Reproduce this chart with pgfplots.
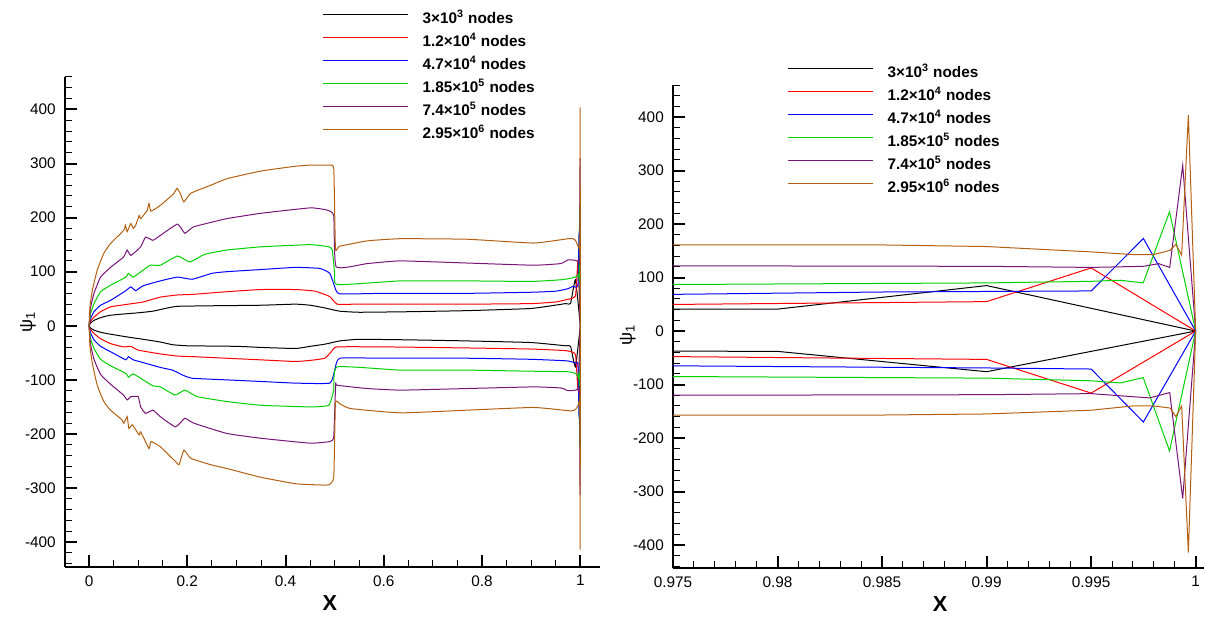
\documentclass[border=0pt]{standalone}
\usepackage{fontspec}
\setmainfont{Liberation Sans}
\usepackage{pgfplots}
\usepackage{pgfplotstable}
\pgfplotsset{compat=1.18}
\definecolor{cgreen}{RGB}{0,210,0}
\definecolor{cpurple}{RGB}{120,20,120}
\definecolor{cbrown}{RGB}{180,95,15}

\pgfplotstableread{
x y
0 0
0.003 5
0.01 10
0.0234 15
0.04 19
0.06 21
0.1 24
0.13 27
0.16 33
0.18 36
0.25 37
0.35 38
0.42 40
0.45 38
0.48 33
0.51 27
0.55 25
0.65 26
0.77 28
0.9 32
0.97 41
0.98 41
0.99 85
1 0
}\bkU
\pgfplotstableread{
x y
0 0
0.003 -4
0.01 -8
0.0234 -12
0.04 -15
0.08 -21
0.11 -25
0.145 -30
0.17 -35
0.2 -37
0.3 -38
0.35 -40
0.42 -42
0.45 -38
0.48 -34
0.51 -28
0.55 -25
0.65 -26
0.77 -28
0.9 -31
0.97 -37
0.98 -38
0.99 -76
1 0
}\bkL
\pgfplotstableread{
x y
0 0
0.003 8
0.01 16
0.0234 26
0.0437 35
0.08 40
0.11 44
0.145 53
0.18 57
0.21 58
0.28 63
0.35 67
0.42 67
0.46 64
0.49 54
0.505 40
0.55 40
0.77 40
0.9 41
0.95 44
0.97 48
0.99 55
0.995 118
1 0
}\rdU
\pgfplotstableread{
x y
0 0
0.003 -7
0.01 -14
0.0234 -24
0.0437 -33
0.07 -39
0.085 -38
0.1 -45
0.145 -52
0.18 -56
0.21 -57
0.28 -60
0.35 -63
0.42 -66
0.45 -64
0.48 -60
0.495 -46
0.505 -39
0.6 -39
0.77 -41
0.9 -43
0.97 -46
0.99 -53
0.995 -116
1 0
}\rdL
\pgfplotstableread{
x y
0 0
0.003 13
0.01 26
0.0234 38
0.0437 47
0.075 65
0.085 72
0.095 65
0.11 74
0.145 83
0.18 90
0.21 86
0.25 97
0.28 100
0.35 104
0.42 108
0.47 106
0.49 97
0.5 72
0.51 59
0.6 60
0.77 60
0.9 62
0.95 64
0.975 68.6
0.985 73
0.995 75
0.9975 173
1 0
}\blU
\pgfplotstableread{
x y
0 0
0.003 -13
0.01 -26
0.0234 -38
0.0437 -48
0.075 -63
0.08 -57
0.09 -63
0.11 -68
0.145 -77
0.17 -82
0.19 -91
0.21 -97
0.28 -100
0.35 -103
0.42 -106
0.49 -106
0.5 -82
0.51 -60
0.6 -60
0.77 -60
0.9 -62
0.975 -65
0.99 -69
0.995 -71
0.9975 -170
1 0
}\blL
\pgfplotstableread{
x y
0 0
0.003 22
0.01 41
0.0234 63
0.0437 75
0.075 90
0.08 97
0.09 90
0.11 103
0.125 112
0.145 112
0.18 129
0.205 118
0.235 132
0.28 140
0.35 146
0.45 150
0.488 146
0.495 140
0.5 97
0.505 76
0.634 83
0.77 83
0.9 82
0.96 85
0.975 87
0.99 90
0.995 93
0.9964 95
0.99749 90
0.99875 223
1 0
}\grU
\pgfplotstableread{
x y
0 0
0.003 -23
0.01 -42
0.0234 -62
0.0437 -74
0.075 -88
0.08 -95
0.09 -89
0.11 -100
0.13 -111
0.145 -113
0.175 -128
0.195 -119
0.22 -131
0.28 -140
0.35 -147
0.45 -150
0.488 -147
0.498 -119
0.505 -76
0.634 -82
0.77 -82
0.9 -84
0.975 -85
0.99 -88
0.995 -93
0.9964 -97
0.99749 -87
0.99875 -224
1 0
}\grL
\pgfplotstableread{
x y
0 0
0.003 33
0.01 60
0.0234 90
0.0437 108
0.07 127
0.0776 140
0.085 130
0.105 146
0.115 164
0.13 158
0.145 167
0.18 188
0.195 171
0.213 183
0.28 198
0.35 208
0.45 218
0.484 214
0.498 204
0.503 109
0.566 115
0.634 120
0.77 116
0.905 112
0.96 115
0.975 122
0.99 121
0.995 119
0.9975 121
0.99823 126
0.99876 119
0.99938 310
1 0
}\puU
\pgfplotstableread{
x y
0 0
0.003 -34
0.01 -62
0.0234 -90
0.0437 -108
0.07 -128
0.0776 -137
0.085 -131
0.1 -131
0.105 -150
0.115 -162
0.13 -156
0.145 -168
0.176 -187
0.195 -171
0.213 -180
0.28 -199
0.35 -208
0.45 -217
0.49 -214
0.498 -205
0.502 -107
0.505 -110
0.566 -116
0.634 -119
0.77 -116
0.905 -113
0.96 -115
0.975 -120
0.99 -119
0.995 -117
0.9978 -125
0.99876 -115
0.99938 -313
1 0
}\puL
\pgfplotstableread{
x y
0 0
0.002 38
0.0068 66
0.0166 103
0.03 134
0.0437 152
0.0709 177
0.074 186
0.0776 174
0.085 189
0.09 180
0.095 186
0.102 204
0.105 198
0.118 213
0.122 226
0.126 212
0.1455 223
0.172 244
0.179 254
0.186 244
0.193 229
0.207 245
0.248 260
0.281 272
0.349 286
0.42 295
0.45 297
0.488 297
0.4981 290
0.5015 143
0.51 147
0.566 157
0.634 161
0.77 160
0.905 153
0.975 161
0.985 161
0.99 158
0.995 148
0.997 143
0.998 143
0.99878 151
0.99905 162
0.99933 142
0.99965 404
1 0
}\brU
\pgfplotstableread{
x y
0 0
0.002 -40
0.0068 -70
0.0166 -110
0.03 -140
0.0437 -156
0.067 -174
0.0709 -180
0.0776 -168
0.081 -190
0.088 -183
0.102 -202
0.105 -196
0.122 -227
0.126 -214
0.1455 -224
0.176 -251
0.183 -257
0.193 -230
0.207 -245
0.248 -257
0.281 -264
0.349 -280
0.42 -292
0.46 -294
0.488 -294
0.4981 -279
0.5015 -143
0.51 -144
0.532 -153
0.634 -161
0.77 -156
0.905 -151
0.975 -157
0.985 -157
0.99 -155
0.995 -148
0.997 -140
0.998 -140
0.99878 -144
0.99905 -160
0.99933 -140
0.99965 -414
1 0
}\brL

\pgfplotsset{
  tecaxis/.style={
    scale only axis,
    axis lines=left,
    axis line style={-, line width=1.2pt},
    tick align=inside,
    major tick length=7pt,
    minor tick length=4pt,
    major tick style={line width=1.2pt, black},
    minor tick style={line width=0.6pt, black},
    ytick={-400,-300,-200,-100,0,100,200,300,400},
    yticklabels={-400,-300,-200,-100,0,100,200,300,400},
    minor ytick={-440,-420,...,460},
    tick label style={font=\fontsize{9.2}{11}\selectfont},
    xticklabel style={yshift=-1.5pt},
    yticklabel style={xshift=-2pt},
    xlabel={\textbf{X}},
    ylabel={ψ\textsubscript{1}},
    xlabel style={font=\fontsize{13}{15}\selectfont, anchor=center},
    ylabel style={font=\fontsize{11}{13}\selectfont, anchor=center},
    legend style={draw=none, fill=none, inner sep=0pt, outer sep=0pt,
      font=\bfseries\fontsize{9.2}{11}\selectfont,
      nodes={inner sep=0pt, text height=6.8pt, text depth=2pt},
      row sep=5pt, column sep=8.6pt},
    legend cell align=left,
    legend image code/.code={\draw[#1, line width=0.75pt] (0pt,3.2pt) -- (51pt,3.2pt);},
    every axis plot/.append style={line width=0.6pt},
  }
}

\begin{document}
\begin{tikzpicture}
\useasboundingbox (-39pt,-30pt) rectangle (684.6pt,340.2pt);
\begin{axis}[tecaxis,
  at={(0pt,0pt)}, anchor=south west,
  width=321pt, height=294pt,
  xmin=-0.049, xmax=1.04, ymin=-446, ymax=460,
  xtick={0,0.2,0.4,0.6,0.8,1},
  xticklabels={0,0.2,0.4,0.6,0.8,1},
  minor x tick num=3,
  xlabel style={at={(axis description cs:0.495,-0.0735)}},
  ylabel style={at={(axis description cs:-0.069,0.5)}},
  legend style={at={(axis description cs:0.4804,1.132)}, anchor=north west},
  every axis plot/.append style={smooth, tension=0.25},
]
\addlegendimage{black}\addlegendentry{3×10\textsuperscript{3} nodes}
\addlegendimage{red}\addlegendentry{1.2×10\textsuperscript{4} nodes}
\addlegendimage{blue}\addlegendentry{4.7×10\textsuperscript{4} nodes}
\addlegendimage{cgreen}\addlegendentry{1.85×10\textsuperscript{5} nodes}
\addlegendimage{cpurple}\addlegendentry{7.4×10\textsuperscript{5} nodes}
\addlegendimage{cbrown}\addlegendentry{2.95×10\textsuperscript{6} nodes}
\addplot[black, forget plot] table {\bkU};
\addplot[red, forget plot] table {\rdU};
\addplot[blue, forget plot] table {\blU};
\addplot[cgreen, forget plot] table {\grU};
\addplot[cpurple, forget plot] table {\puU};
\addplot[cbrown, forget plot] table {\brU};
\addplot[black, forget plot] table {\bkL};
\addplot[red, forget plot] table {\rdL};
\addplot[blue, forget plot] table {\blL};
\addplot[cgreen, forget plot] table {\grL};
\addplot[cpurple, forget plot] table {\puL};
\addplot[cbrown, forget plot] table {\brL};
\end{axis}
\begin{axis}[tecaxis,
  at={(364.8pt,-0.6pt)}, anchor=south west,
  width=318.6pt, height=289.8pt,
  xmin=0.975, xmax=1.0004, ymin=-443, ymax=460,
  xtick={0.975,0.98,0.985,0.99,0.995,1},
  xticklabels={0.975,0.98,0.985,0.99,0.995,1},
  minor x tick num=4,
  restrict x to domain=0.9:1.01,
  xlabel style={at={(axis description cs:0.503,-0.0745)}},
  ylabel style={at={(axis description cs:-0.085,0.482)}},
  legend style={at={(axis description cs:0.2147,1.039)}, anchor=north west},
]
\addlegendimage{black}\addlegendentry{3×10\textsuperscript{3} nodes}
\addlegendimage{red}\addlegendentry{1.2×10\textsuperscript{4} nodes}
\addlegendimage{blue}\addlegendentry{4.7×10\textsuperscript{4} nodes}
\addlegendimage{cgreen}\addlegendentry{1.85×10\textsuperscript{5} nodes}
\addlegendimage{cpurple}\addlegendentry{7.4×10\textsuperscript{5} nodes}
\addlegendimage{cbrown}\addlegendentry{2.95×10\textsuperscript{6} nodes}
\addplot[black, forget plot] table {\bkU};
\addplot[red, forget plot] table {\rdU};
\addplot[blue, forget plot] table {\blU};
\addplot[cgreen, forget plot] table {\grU};
\addplot[cpurple, forget plot] table {\puU};
\addplot[cbrown, forget plot] table {\brU};
\addplot[black, forget plot] table {\bkL};
\addplot[red, forget plot] table {\rdL};
\addplot[blue, forget plot] table {\blL};
\addplot[cgreen, forget plot] table {\grL};
\addplot[cpurple, forget plot] table {\puL};
\addplot[cbrown, forget plot] table {\brL};
\end{axis}
\end{tikzpicture}
\end{document}
